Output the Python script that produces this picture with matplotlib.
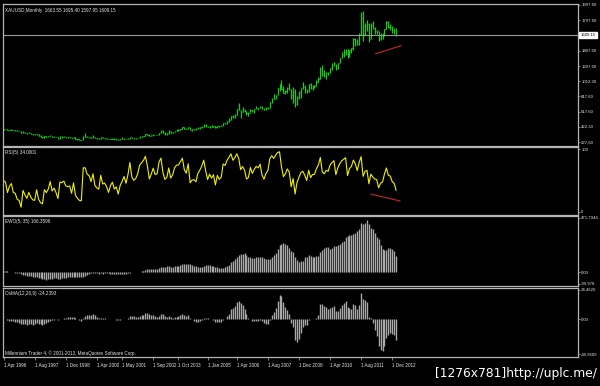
import matplotlib
matplotlib.use("Agg")
import matplotlib.pyplot as plt
import matplotlib.transforms as mtransforms
import numpy as np
import pandas as pd

plt.rcParams['font.family'] = ['Liberation Sans', 'DejaVu Sans']

# warm-up closes (Jan 1993 - Mar 1996), only used to seed the indicators
warmup_close = [330, 328, 337, 354, 377, 378, 401, 371, 355, 369, 370, 391,
                378, 381, 390, 376, 387, 385, 384, 386, 394, 383, 383, 383,
                375, 376, 392, 389, 385, 387, 384, 382, 384, 383, 387, 387,
                405, 400, 396]

# XAUUSD monthly, Apr 1996 - Feb 2013
close = [392.0, 391.0, 382.0, 385.5, 387.0, 379.5, 378.5, 371.0, 369.0,
         345.5, 358.5, 349.0, 340.0, 345.0, 334.5, 326.5, 325.0, 332.5, 311.5, 296.0, 290.0,
         304.0, 297.5, 301.0, 309.0, 293.5, 296.5, 288.5, 273.5, 293.0, 292.0, 294.0, 288.0,
         287.0, 287.5, 279.5, 286.5, 268.5, 261.5, 255.5, 254.5, 299.0, 299.0, 291.5, 290.0,
         283.0, 293.5, 278.0, 274.0, 272.0, 288.0, 276.5, 277.5, 273.0, 264.5, 270.0, 273.0,
         265.5, 267.0, 258.0, 264.0, 267.0, 271.0, 266.0, 273.0, 293.0, 279.0, 275.0, 277.0,
         282.5, 297.0, 303.0, 309.5, 326.5, 318.5, 304.0, 312.0, 324.0, 317.0, 318.5, 347.0,
         368.0, 348.0, 335.0, 339.0, 364.0, 346.0, 354.0, 375.0, 385.0, 386.0, 398.0, 416.0,
         402.0, 397.0, 427.0, 387.0, 394.0, 395.0, 391.0, 408.0, 416.0, 428.0, 453.0, 438.0,
         422.0, 435.0, 428.0, 435.0, 417.0, 436.0, 429.0, 433.0, 472.0, 470.0, 495.0, 517.0,
         568.0, 556.0, 582.0, 654.0, 643.0, 613.0, 633.0, 624.0, 599.0, 604.0, 647.0, 632.0,
         650.0, 665.0, 662.0, 679.0, 659.0, 650.0, 665.0, 673.0, 743.0, 789.0, 783.0, 834.0,
         923.0, 972.0, 916.0, 863.0, 885.0, 926.0, 913.0, 829.0, 880.0, 718.0, 814.0, 869.0,
         928.0, 942.0, 916.0, 883.0, 976.0, 927.0, 954.0, 955.0, 1001.0, 1039.0, 1182.0, 1096.0,
         1081.0, 1118.0, 1113.0, 1180.0, 1213.0, 1244.0, 1181.0, 1248.0, 1307.0, 1357.0, 1386.0, 1421.0,
         1333.0, 1410.0, 1439.0, 1556.0, 1536.0, 1500.0, 1628.0, 1826.0, 1620.0, 1722.0, 1746.0, 1564.0,
         1737.0, 1697.0, 1669.0, 1664.0, 1561.0, 1604.0, 1614.0, 1691.0, 1773.0, 1719.0, 1714.0, 1675.0,
         1663.55, 1609.15]

high = [396.5, 394.5, 392.0, 389.0, 390.0, 388.5, 389.0, 384.0, 373.0,
        368.0, 366.0, 359.0, 347.0, 351.5, 346.5, 335.0, 328.5, 334.0, 337.0, 313.0, 299.0,
        306.0, 305.5, 303.0, 315.0, 309.0, 300.0, 297.0, 289.0, 300.0, 302.0, 299.5, 296.5,
        293.0, 291.0, 290.0, 291.5, 289.0, 265.0, 262.0, 258.0, 306.0, 338.0, 301.0, 295.0,
        292.0, 317.0, 298.0, 285.0, 278.0, 294.0, 290.0, 281.0, 277.0, 273.0, 271.5, 275.0,
        274.0, 269.0, 268.0, 265.0, 293.0, 274.0, 272.0, 279.0, 294.0, 293.0, 279.0, 282.0,
        283.0, 303.0, 305.0, 309.0, 328.0, 333.0, 325.0, 315.0, 326.0, 324.0, 323.0, 349.0,
        383.0, 382.0, 352.0, 340.0, 377.0, 367.0, 361.0, 376.0, 392.0, 394.0, 402.0, 417.0,
        427.0, 409.0, 428.0, 427.0, 396.0, 399.0, 411.0, 416.0, 418.0, 433.0, 456.0, 456.0,
        437.0, 438.0, 446.0, 437.0, 436.0, 441.0, 429.0, 447.0, 474.0, 479.0, 497.0, 541.0,
        569.0, 574.0, 584.0, 654.0, 730.0, 642.0, 677.0, 651.0, 628.0, 611.0, 650.0, 641.0,
        653.0, 690.0, 668.0, 692.0, 690.0, 671.0, 683.0, 674.0, 745.0, 790.0, 845.0, 836.0,
        928.0, 975.0, 1032.0, 953.0, 905.0, 935.0, 988.0, 915.0, 935.0, 910.0, 827.0, 890.0,
        930.0, 1006.0, 962.0, 918.0, 979.0, 989.0, 959.0, 963.0, 1024.0, 1070.0, 1195.0, 1226.0,
        1162.0, 1127.0, 1127.0, 1183.0, 1249.0, 1266.0, 1241.0, 1254.0, 1313.0, 1388.0, 1424.0, 1432.0,
        1425.0, 1411.0, 1448.0, 1575.0, 1577.0, 1556.0, 1632.0, 1912.0, 1921.0, 1766.0, 1803.0, 1763.0,
        1764.0, 1790.0, 1719.0, 1673.0, 1666.0, 1641.0, 1631.0, 1693.0, 1790.0, 1796.0, 1755.0, 1725.0,
        1694.0, 1695.40]

low = [389.0, 389.5, 380.5, 380.0, 384.5, 378.0, 376.0, 368.5, 366.5,
       344.0, 341.0, 347.0, 337.0, 339.0, 334.0, 318.0, 320.5, 317.0, 308.0, 291.0, 283.0,
       277.0, 291.0, 291.0, 299.5, 290.0, 288.0, 287.0, 272.5, 273.0, 285.0, 289.0, 285.0,
       283.0, 283.0, 277.0, 278.5, 267.0, 256.5, 252.5, 252.0, 253.0, 294.0, 290.0, 279.0,
       279.0, 282.0, 276.5, 273.0, 269.0, 270.5, 275.0, 270.5, 269.0, 263.0, 263.0, 266.0,
       261.0, 256.0, 255.0, 255.0, 263.0, 263.0, 264.0, 266.0, 271.0, 277.0, 272.0, 271.0,
       277.0, 280.0, 288.0, 300.0, 306.0, 315.0, 302.0, 301.0, 311.0, 314.0, 315.0, 316.0,
       342.0, 345.0, 320.0, 320.0, 336.0, 342.0, 342.0, 352.0, 366.0, 370.0, 378.0, 396.0,
       399.0, 392.0, 395.0, 387.0, 371.0, 380.0, 387.0, 391.0, 398.0, 413.0, 424.0, 427.0,
       418.0, 412.0, 424.0, 423.0, 414.0, 414.0, 418.0, 429.0, 432.0, 462.0, 460.0, 489.0,
       514.0, 538.0, 542.0, 580.0, 643.0, 542.0, 613.0, 613.0, 573.0, 560.0, 612.0, 609.0,
       603.0, 648.0, 637.0, 670.0, 653.0, 640.0, 647.0, 649.0, 672.0, 729.0, 780.0, 783.0,
       834.0, 882.0, 910.0, 858.0, 845.0, 860.0, 901.0, 786.0, 735.0, 681.0, 705.0, 777.0,
       802.0, 917.0, 865.0, 866.0, 880.0, 913.0, 905.0, 931.0, 952.0, 1003.0, 1039.0, 1075.0,
       1073.0, 1044.0, 1088.0, 1114.0, 1164.0, 1206.0, 1157.0, 1176.0, 1242.0, 1314.0, 1331.0, 1357.0,
       1308.0, 1327.0, 1381.0, 1418.0, 1462.0, 1478.0, 1478.0, 1604.0, 1535.0, 1605.0, 1668.0, 1523.0,
       1563.0, 1687.0, 1627.0, 1627.0, 1527.0, 1549.0, 1564.0, 1591.0, 1690.0, 1697.0, 1672.0, 1635.0,
       1626.0, 1597.95]

date_idx = [0, 16, 32, 48, 61, 77, 90, 105, 120, 136, 152, 168, 184, 200]
date_labels = ["1 Apr 1996", "1 Aug 1997", "1 Dec 1998", "1 Apr 2000", "1 May 2001",
               "1 Sep 2002", "1 Oct 2003", "1 Jan 2005", "1 Apr 2006", "1 Aug 2007",
               "1 Dec 2008", "1 Apr 2010", "1 Aug 2011", "1 Dec 2012"]

price_ticks = [1997.60, 1797.60, 1407.60, 1207.60, 1012.30, 817.60, 617.60, 422.30, 227.60]
last_price = 1609.15
rsi_ticks = [100, 0]
ewo_ticks = [471.7944, 0.0, -99.978]
ewo_tick_labels = ["471.7944", "0.00", "-99.978"]
osma_ticks = [34.4620, 0.0, -40.9609]
osma_tick_labels = ["34.4620", "0.00", "-40.9609"]

# drawn trend lines (bar index, value)
price_trend = ([191.5, 204.5], [1369, 1471])
rsi_trend = ([189, 204], [28.5, 17.5])

# ---- indicators ----
c_all = pd.Series(warmup_close + close, dtype=float)
n_warm = len(warmup_close)

delta = c_all.diff()
gain = delta.clip(lower=0).ewm(alpha=1 / 5, adjust=False).mean()
loss = (-delta.clip(upper=0)).ewm(alpha=1 / 5, adjust=False).mean()
rsi = (100 - 100 / (1 + gain / loss)).values[n_warm:]

ewo = (c_all.rolling(5).mean() - c_all.rolling(35).mean()).values[n_warm:]

macd = c_all.ewm(span=12, adjust=False).mean() - c_all.ewm(span=26, adjust=False).mean()
osma = (macd - macd.rolling(9).mean()).values[n_warm:]

x = np.arange(len(close))

# ---- figure ----
BG = "black"
FRAME = "#b4b4b4"
TXT = "#e6e6e6"
FS = 3.3
FS_AX = 3.1

fig = plt.figure(figsize=(6, 3.86), dpi=100, facecolor=BG)


def panel(top, bottom):
    ax = fig.add_axes([3 / 600, 1 - bottom / 386, 575 / 600, (bottom - top) / 386])
    ax.set_facecolor(BG)
    for s in ax.spines.values():
        s.set_color(FRAME)
        s.set_linewidth(0.9)
    ax.set_xlim(-0.3, 295.6)
    ax.yaxis.tick_right()
    ax.tick_params(axis="y", color=FRAME, labelcolor=TXT, labelsize=FS_AX,
                   length=1.5, width=0.5, pad=0.8)
    ax.tick_params(axis="x", bottom=False, labelbottom=False)
    return ax


ax1 = panel(4, 146)
ax2 = panel(147, 215)
ax3 = panel(216, 286)
ax4 = panel(288, 357)

# price bars
ax1.vlines(x, low, high, color="#00dd00", lw=0.8)
ax1.hlines(close, x, x + 0.6, color="#00dd00", lw=0.6)
ax1.axhline(last_price, color="#9a9a9a", lw=0.8)
ax1.plot(*price_trend, color="#c82828", lw=0.8)
ax1.set_ylim(176.3, 2010.4)
ax1.set_yticks(price_ticks)
ax1.set_yticklabels([f"{v:.2f}" for v in price_ticks])
blend = mtransforms.blended_transform_factory(ax1.transAxes, ax1.transData)
ax1.text(1.004, last_price, f"{last_price:.2f}", transform=blend, fontsize=FS_AX,
         color="black", va="center", ha="left",
         bbox=dict(boxstyle="square,pad=0.25", facecolor="white", edgecolor="white"))
ax1.text(0.004, 0.975, "XAUUSD,Monthly  1663.55 1695.40 1597.95 1609.15",
         transform=ax1.transAxes, fontsize=FS, color=TXT, va="top", ha="left")

# RSI
ax2.plot(x, rsi, color="#f0f000", lw=0.8)
ax2.plot(*rsi_trend, color="#c82828", lw=0.8)
ax2.set_ylim(-4.8, 103.2)
ax2.set_yticks(rsi_ticks)
ax2.set_yticklabels(["100", "0"])
ax2.text(0.004, 0.96, "RSI(5) 34.0001", transform=ax2.transAxes, fontsize=FS,
         color=TXT, va="top", ha="left")

# EWO
ax3.vlines(x, 0, ewo, color="#a8a8a8", lw=1.0)
ax3.set_ylim(-118, 488.6)
ax3.set_yticks(ewo_ticks)
ax3.set_yticklabels(ewo_tick_labels)
ax3.text(0.004, 0.96, "EWO(5, 35) 166.3596", transform=ax3.transAxes, fontsize=FS,
         color=TXT, va="top", ha="left")

# OsMA
ax4.vlines(x, 0, osma, color="#a8a8a8", lw=1.0)
ax4.set_ylim(-44.4, 36.8)
ax4.set_yticks(osma_ticks)
ax4.set_yticklabels(osma_tick_labels)
ax4.text(0.004, 0.96, "OsMA(12,26,9) -24.2393", transform=ax4.transAxes, fontsize=FS,
         color=TXT, va="top", ha="left")
ax4.text(0.004, 0.02, "Millennium Trader 4, \u00a9 2001-2013, MetaQuotes Software Corp.",
         transform=ax4.transAxes, fontsize=FS, color=TXT, va="bottom", ha="left")

ax4.tick_params(axis="x", bottom=True, labelbottom=True, color=FRAME,
                labelcolor=TXT, labelsize=FS, length=2.5, width=0.5, pad=1.5)
ax4.set_xticks(date_idx)
ax4.set_xticklabels(date_labels, ha="left")

fig.text(0.995, 1 - 374 / 386, "[1276x781]http://uplc.me/", color="white",
         fontsize=8.8, ha="right", va="center", family="DejaVu Sans")

fig.savefig("out.png", dpi=100, facecolor=BG)
